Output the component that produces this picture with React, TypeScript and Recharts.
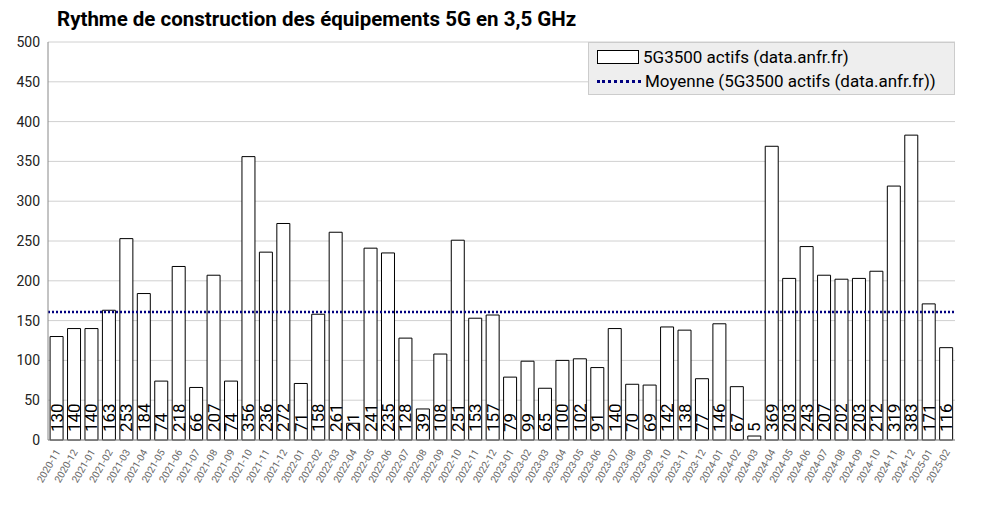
import React from "react";
import { ComposedChart, Bar, XAxis, YAxis, CartesianGrid, ReferenceLine, LabelList } from "recharts";

const MONTHS = [
  "2020-11", "2020-12",
  "2021-01", "2021-02", "2021-03", "2021-04", "2021-05", "2021-06", "2021-07", "2021-08", "2021-09", "2021-10", "2021-11", "2021-12",
  "2022-01", "2022-02", "2022-03", "2022-04", "2022-05", "2022-06", "2022-07", "2022-08", "2022-09", "2022-10", "2022-11", "2022-12",
  "2023-01", "2023-02", "2023-03", "2023-04", "2023-05", "2023-06", "2023-07", "2023-08", "2023-09", "2023-10", "2023-11", "2023-12",
  "2024-01", "2024-02", "2024-03", "2024-04", "2024-05", "2024-06", "2024-07", "2024-08", "2024-09", "2024-10", "2024-11", "2024-12",
  "2025-01", "2025-02",
];
const ACTIFS = [
  130, 140,
  140, 163, 253, 184, 74, 218, 66, 207, 74, 356, 236, 272,
  71, 158, 261, 21, 241, 235, 128, 39, 108, 251, 153, 157,
  79, 99, 65, 100, 102, 91, 140, 70, 69, 142, 138, 77,
  146, 67, 5, 369, 203, 243, 207, 202, 203, 212, 319, 383,
  171, 116,
];
const Y_TICKS = [0, 50, 100, 150, 200, 250, 300, 350, 400, 450, 500];

const data = MONTHS.map((m, i) => ({ mois: m, actifs: ACTIFS[i] }));
const moyenne = ACTIFS.reduce((a, b) => a + b, 0) / ACTIFS.length;

const FONT = "Roboto, 'Liberation Sans', sans-serif";

const ValueLabel = (props: any) => {
  const vb = props.viewBox || {};
  const x = Number(props.x ?? vb.x);
  const y = Number(props.y ?? vb.y);
  const width = Number(props.width ?? vb.width);
  const height = Number(props.height ?? vb.height);
  const cx = x + width / 2;
  const base = y + height - 8;
  return (
    <g transform={`translate(${cx} ${base}) rotate(-90)`}>
      <text x={0} y={0} textAnchor="start" dominantBaseline="central" fontSize={17} fill="#000" fontFamily={FONT}>
        {props.value}
      </text>
    </g>
  );
};

const MonthTick = (props: any) => {
  const { x, y, payload } = props;
  return (
    <g transform={`translate(${x + 4} ${y + 4}) rotate(-60)`}>
      <text x={0} y={0} textAnchor="end" fontSize={10} fill="#666" fontFamily={FONT}>
        {payload.value}
      </text>
    </g>
  );
};

export default function App() {
  return (
    <div style={{ position: "absolute", left: 0, top: 0, width: 985, height: 508, background: "#fff", fontFamily: FONT }}>
      <div style={{ position: "absolute", left: 57, top: 7, fontSize: 20.5, fontWeight: 700, color: "#000" }}>
        Rythme de construction des équipements 5G en 3,5 GHz
      </div>
      <ComposedChart width={985} height={508} data={data} barCategoryGap="12%"
        margin={{ top: 42, right: 30, bottom: 0, left: 0 }}>
        <CartesianGrid vertical={false} stroke="#d0d0d0" />
        <XAxis dataKey="mois" interval={0} tick={<MonthTick />} tickLine={false} axisLine={{ stroke: "#888" }} height={68} />
        <YAxis domain={[0, 500]} ticks={Y_TICKS} width={48} tick={{ fontSize: 14, fill: "#222", fontFamily: FONT }}
          tickLine={false} axisLine={{ stroke: "#888" }} />
        <Bar dataKey="actifs" fill="#fff" stroke="#000" strokeWidth={1} isAnimationActive={false}>
          <LabelList dataKey="actifs" content={<ValueLabel />} />
        </Bar>
        <ReferenceLine y={moyenne} stroke="#000080" strokeWidth={2.5} strokeDasharray="2 2" />
      </ComposedChart>
      <div style={{ position: "absolute", left: 588, top: 42, width: 367, height: 53, background: "#eeeeee",
        border: "1px solid #ccc", boxSizing: "border-box", fontSize: 17, color: "#000" }}>
        <div style={{ position: "absolute", left: 8, top: 4, display: "flex", alignItems: "center" }}>
          <div style={{ width: 40, height: 12, border: "1px solid #000", background: "#fff", marginRight: 4 }} />
          5G3500 actifs (data.anfr.fr)
        </div>
        <div style={{ position: "absolute", left: 8, top: 28, display: "flex", alignItems: "center" }}>
          <div style={{ width: 44, borderTop: "3px dotted #000080", marginRight: 4 }} />
          Moyenne (5G3500 actifs (data.anfr.fr))
        </div>
      </div>
    </div>
  );
}
